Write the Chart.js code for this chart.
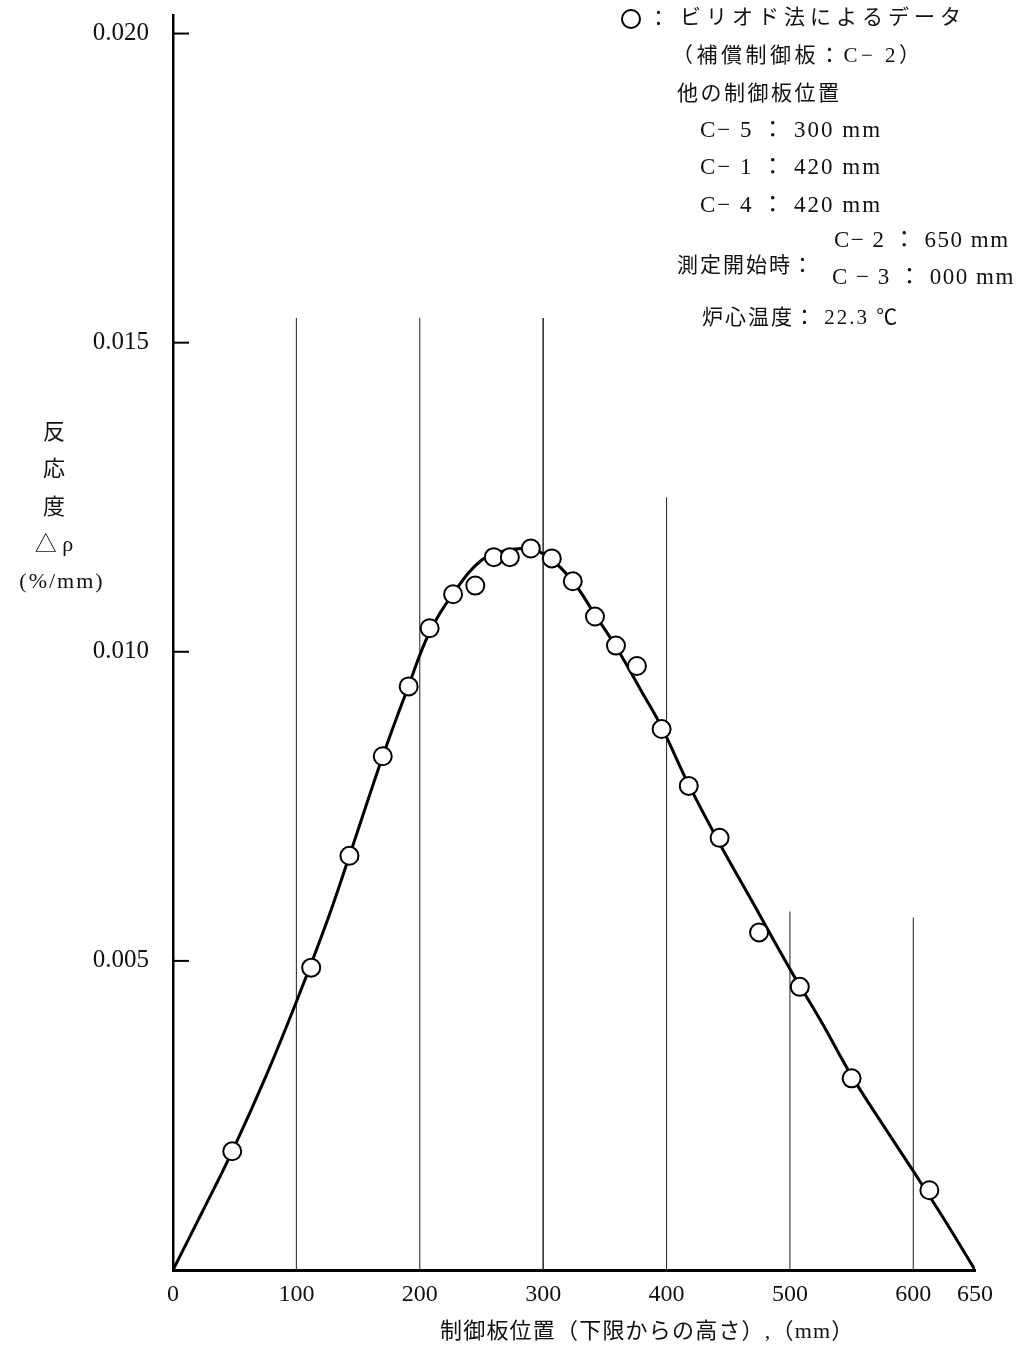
<!DOCTYPE html>
<html>
<head>
<meta charset="utf-8">
<script src="https://cdn.jsdelivr.net/npm/chart.js@4/dist/chart.umd.min.js"></script>
<style>
  html, body { margin: 0; padding: 0; background: #fff; }
  #wrap { width: 1020px; height: 1350px; }
</style>
</head>
<body>
<div id="wrap"><canvas id="chart" width="1020" height="1350"></canvas></div>
<script>
// measured points (period method), rod position in mm vs reactivity in %/mm
const pointX = [48, 112, 143, 170, 191, 208, 227, 245, 260, 273, 290, 307, 324, 342, 359, 376, 396, 418, 443, 475, 508, 550, 613];
const pointY = [0.00192, 0.00489, 0.00670, 0.00831, 0.00944, 0.01038, 0.01093, 0.01107, 0.01153, 0.01153, 0.01167, 0.01151,
                0.01114, 0.01057, 0.01010, 0.00977, 0.00875, 0.00783, 0.00699, 0.00546, 0.00458, 0.00310, 0.00129];

// fitted curve
const curveX = [0, 24, 48, 75, 100, 125, 143, 170, 190, 208, 227, 250, 270, 290, 305, 324, 342, 360, 380, 396, 418, 443, 470, 500, 525, 550, 575, 600, 625, 650];
const curveY = [0, 0.00095, 0.00192, 0.00312, 0.00434, 0.00565, 0.00670, 0.00831, 0.00940, 0.01032, 0.01094, 0.01148, 0.01164, 0.01166, 0.01152,
                0.01114, 0.01060, 0.01005, 0.00935, 0.00878, 0.00785, 0.00690, 0.00594, 0.00487, 0.00403, 0.00314, 0.00236, 0.00160, 0.00082, 0];

// vertical guide lines
const guideX = [100, 200, 300, 400, 500, 600];
const guideTop = [0.0154, 0.0154, 0.0154, 0.0125, 0.0058, 0.0057];

const xTicks = [0, 100, 200, 300, 400, 500, 600, 650];
const yTicks = [0.005, 0.010, 0.015, 0.020];

const SERIF = '"Liberation Serif", "Noto Sans CJK JP", serif';
const JP = '"Liberation Serif", "Noto Sans CJK JP", sans-serif';

const datasets = [];
datasets.push({
    type: 'scatter',
    label: 'data',
    data: pointX.map((x, i) => ({ x: x, y: pointY[i] })),
    pointStyle: 'circle',
    pointRadius: 9,
    pointBackgroundColor: '#fff',
    pointBorderColor: '#000',
    pointBorderWidth: 2,
    order: 0
});
datasets.push({
    type: 'line',
    label: 'curve',
    data: curveX.map((x, i) => ({ x: x, y: curveY[i] })),
    borderColor: '#000',
    borderWidth: 3,
    pointRadius: 0,
    tension: 0.4,
    fill: false,
    order: 1
});
guideX.forEach((gx, i) => {
    datasets.push({
        type: 'line',
        label: 'guide' + gx,
        data: [{ x: gx, y: 0 }, { x: gx, y: guideTop[i] }],
        borderColor: '#333',
        borderWidth: gx === 300 ? 1.6 : 1.1,
        pointRadius: 0,
        fill: false,
        order: 2
    });
});

function spacedText(ctx, text, x, y, spacing) {
    ctx.letterSpacing = spacing + 'px';
    ctx.fillText(text, x, y);
    ctx.letterSpacing = '0px';
}

const annotations = {
    id: 'annotations',
    afterDraw(chart) {
        const ctx = chart.ctx;
        const y = chart.scales.y;
        const area = chart.chartArea;
        ctx.save();

        // inward tick marks on the y axis
        ctx.strokeStyle = '#000';
        ctx.lineWidth = 2;
        yTicks.forEach(v => {
            const py = y.getPixelForValue(v);
            ctx.beginPath();
            ctx.moveTo(area.left, py);
            ctx.lineTo(area.left + 16, py);
            ctx.stroke();
        });

        ctx.fillStyle = '#111';
        ctx.textBaseline = 'middle';

        // y axis title, stacked vertically
        ctx.textAlign = 'center';
        ctx.font = '22px ' + JP;
        ctx.fillText('反', 54, 433);
        ctx.fillText('応', 54, 470);
        ctx.fillText('度', 54, 508);
        ctx.font = '22px ' + SERIF;
        ctx.fillText('△ ρ', 54, 545);
        spacedText(ctx, '(%/mm)', 62, 582, 2);

        // x axis title
        ctx.textAlign = 'left';
        ctx.font = '22px ' + JP;
        spacedText(ctx, '制御板位置（下限からの高さ）,（mm）', 440, 1332, 1.2);

        // legend / conditions block
        ctx.lineWidth = 2;
        ctx.beginPath();
        ctx.arc(631, 19, 9, 0, Math.PI * 2);
        ctx.stroke();
        ctx.font = '21px ' + JP;
        ctx.fillText('：', 648, 19);
        spacedText(ctx, 'ビリオド法によるデータ', 680, 18, 5);
        spacedText(ctx, '（補償制御板：C− 2）', 672, 56, 3.5);
        spacedText(ctx, '他の制御板位置', 677, 94, 2.5);
        ctx.font = '23px ' + JP;
        spacedText(ctx, 'C− 5 ： 300 mm', 700, 131, 2);
        spacedText(ctx, 'C− 1 ： 420 mm', 700, 168, 2);
        spacedText(ctx, 'C− 4 ： 420 mm', 700, 206, 2);
        spacedText(ctx, 'C− 2 ： 650 mm', 834, 241, 1.5);
        spacedText(ctx, 'C − 3 ： 000 mm', 832, 278, 1.5);
        ctx.font = '21px ' + JP;
        spacedText(ctx, '測定開始時：', 677, 266, 2);
        spacedText(ctx, '炉心温度： 22.3 ℃', 702, 318, 2);

        ctx.restore();
    }
};

new Chart(document.getElementById('chart'), {
    type: 'scatter',
    data: { datasets: datasets },
    options: {
        responsive: false,
        animation: false,
        layout: { padding: { left: 0, right: 45, top: 15, bottom: 0 } },
        plugins: {
            legend: { display: false },
            tooltip: { enabled: false },
            title: { display: false }
        },
        scales: {
            x: {
                type: 'linear',
                min: 0,
                max: 650,
                afterFit(scale) { scale.height = 80; },
                afterBuildTicks(scale) { scale.ticks = xTicks.map(v => ({ value: v })); },
                grid: { display: false, drawTicks: false },
                border: { display: true, color: '#000', width: 3 },
                ticks: {
                    padding: 10,
                    maxRotation: 0,
                    autoSkip: false,
                    color: '#111',
                    font: { family: SERIF, size: 24 },
                    callback: v => String(v)
                }
            },
            y: {
                type: 'linear',
                min: 0,
                max: 0.0203,
                afterFit(scale) {
                    scale.width = 173;
                    scale.paddingTop = 0;
                    scale.paddingBottom = 0;
                },
                afterBuildTicks(scale) { scale.ticks = yTicks.map(v => ({ value: v })); },
                grid: { display: false, drawTicks: false },
                border: { display: true, color: '#000', width: 2.5 },
                ticks: {
                    padding: 24,
                    autoSkip: false,
                    color: '#111',
                    font: { family: SERIF, size: 25 },
                    callback: v => v.toFixed(3)
                }
            }
        }
    },
    plugins: [annotations]
});
</script>
</body>
</html>
